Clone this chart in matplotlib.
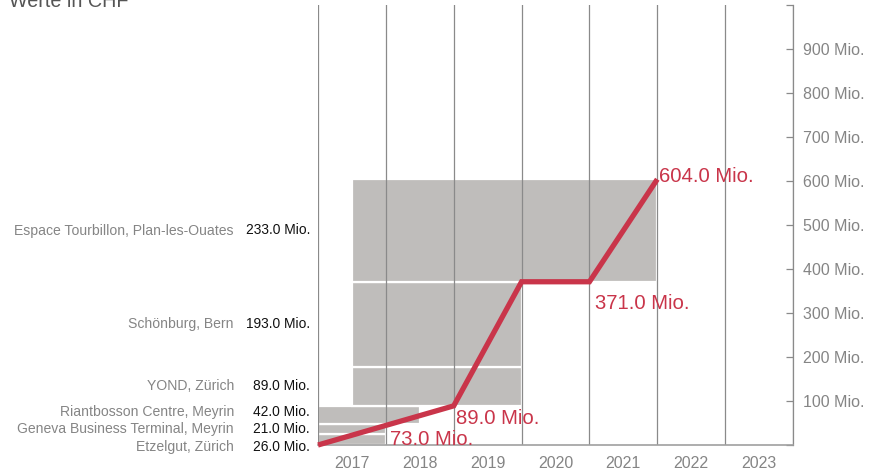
import matplotlib
matplotlib.use("Agg")
import matplotlib.pyplot as plt
from matplotlib import font_manager
import matplotlib.transforms as mtransforms

# ---------------- data ----------------
projects = ["Etzelgut, Zürich", "Geneva Business Terminal, Meyrin",
            "Riantbosson Centre, Meyrin", "YOND, Zürich",
            "Schönburg, Bern", "Espace Tourbillon, Plan-les-Ouates"]
values = [26.0, 21.0, 42.0, 89.0, 193.0, 233.0]          # Mio. CHF
start_year = [0.0, 0.0, 0.0, 0.5, 0.5, 0.5]              # offset from start of 2017
end_year = [1.0, 1.0, 1.5, 3.0, 3.0, 5.0]

years = ["2017", "2018", "2019", "2020", "2021", "2022", "2023"]

line_x = [0, 2, 3, 4, 5]
line_y = [0.0, 89.0, 371.0, 371.0, 604.0]

label_x = [1, 2, 4, 5]
label_y = [73.0, 89.0, 371.0, 604.0]

y_ticks = [0, 100, 200, 300, 400, 500, 600, 700, 800, 900, 1000]
y_tick_labels = ["", "100 Mio.", "200 Mio.", "300 Mio.", "400 Mio.", "500 Mio.",
                 "600 Mio.", "700 Mio.", "800 Mio.", "900 Mio.", ""]

# ---------------- style ----------------
available = {f.name for f in font_manager.fontManager.ttflist}
if "Liberation Sans Narrow" in available:
    NARROW = "Liberation Sans Narrow"
    nscale = 1.0
else:
    NARROW = "Liberation Sans"
    nscale = 0.97
REG = "Liberation Sans" if "Liberation Sans" in available else "DejaVu Sans"

RED = "#c9354a"
BAR = "#bfbdbb"
GRID = "#8a8a8a"
GREY_TXT = "#858585"

fig = plt.figure(figsize=(8.78, 4.74), dpi=100)
ax = fig.add_axes([318 / 878, 29 / 474, 475 / 878, 440 / 474])

# bars (stacked cumulatively)
bottom = 0.0
centers = []
for v, s, e in zip(values, start_year, end_year):
    ax.barh(bottom, e - s, left=s, height=v, align="edge", color=BAR,
            edgecolor="white", linewidth=1.6, zorder=1)
    centers.append(bottom + v / 2)
    bottom += v

# vertical grid lines
for i in range(len(years) + 1):
    ax.axvline(i, color=GRID, lw=0.9, zorder=2)

# red line
ax.plot(line_x, line_y, color=RED, lw=3.8, solid_joinstyle="miter",
        solid_capstyle="butt", zorder=4, clip_on=False)

# red labels (offsets in points)
offsets = [(3, -12), (2, -2), (4, -9), (1, 2)]
vas = ["top", "top", "top", "center"]
for (xx, yy), off, va in zip(zip(label_x, label_y), offsets, vas):
    ax.annotate(f"{yy:.1f} Mio.", (xx, yy), xytext=off, textcoords="offset points",
                ha="left", va=va, color=RED, fontsize=15 * nscale,
                family=NARROW, zorder=5, annotation_clip=False)

# axes setup
ax.set_xlim(0, len(years))
ax.set_ylim(0, 1000)
for sp in ["left", "top"]:
    ax.spines[sp].set_visible(False)
ax.spines["right"].set_color("#8a8a8a")
ax.spines["bottom"].set_color("#a0a0a0")
ax.spines["right"].set_linewidth(0.9)
ax.spines["bottom"].set_linewidth(1.2)

ax.yaxis.tick_right()
ax.set_yticks(y_ticks)
ax.set_yticklabels(y_tick_labels)
ax.tick_params(axis="y", direction="in", length=5, width=0.9, color="#8a8a8a",
               pad=7, labelsize=11.5, labelcolor=GREY_TXT)
for t in ax.get_yticklabels():
    t.set_family(REG)

ax.set_xticks([i + 0.5 for i in range(len(years))])
ax.set_xticklabels(years)
ax.tick_params(axis="x", length=0, pad=8, labelsize=11.5, labelcolor=GREY_TXT)
for t in ax.get_xticklabels():
    t.set_family(REG)

# left labels: names and values
nudges = [-18, 0, 7, 0, 0, 0]   # small vertical nudges (data units) to avoid overlap
trans = mtransforms.blended_transform_factory(fig.transFigure, ax.transData)
for name, v, c, n in zip(projects, values, centers, nudges):
    ax.text(234 / 878, c + n, name, transform=trans, ha="right", va="center",
            color=GREY_TXT, fontsize=10.4 * nscale, family=NARROW, clip_on=False)
    ax.text(310 / 878, c + n, f"{v:.1f} Mio.", transform=trans, ha="right",
            va="center", color="#111111", fontsize=10.2 * nscale, family=NARROW,
            clip_on=False)

# title (partially cut at top as in reference)
fig.text(9 / 878, 1 - 7 / 474, "Werte in CHF", ha="left", va="baseline",
         fontsize=14.2, color="#555555", family=REG)

fig.savefig("out.png", dpi=100)
